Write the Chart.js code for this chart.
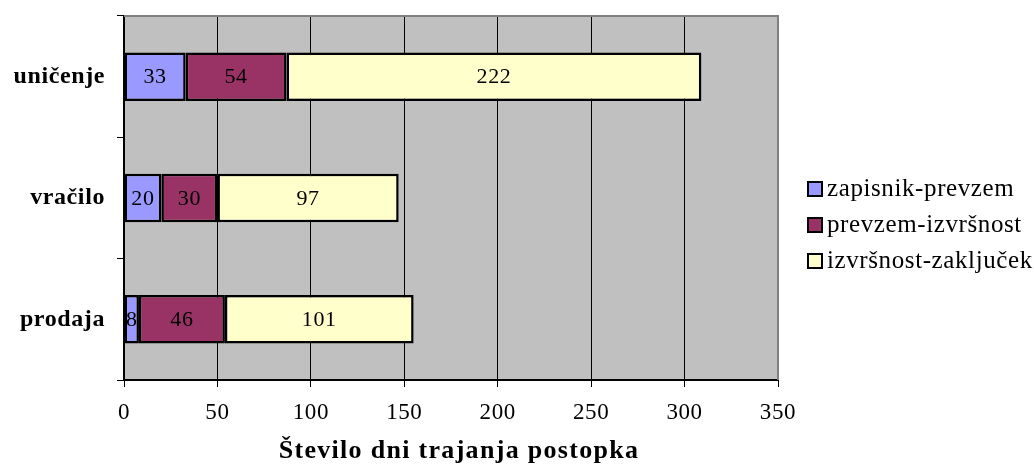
<!DOCTYPE html>
<html>
<head>
<meta charset="utf-8">
<script src="https://cdn.jsdelivr.net/npm/chart.js@4"></script>
<style>
  html, body { margin: 0; padding: 0; background: #fff; }
</style>
</head>
<body>
<canvas id="chart" width="1034" height="469"></canvas>
<script>
const categories = ['uničenje', 'vračilo', 'prodaja'];
const seriesNames = ['zapisnik-prevzem', 'prevzem-izvršnost', 'izvršnost-zaključek'];
const zapisnikPrevzem = [33, 20, 8];
const prevzemIzvrsnost = [54, 30, 46];
const izvrsnostZakljucek = [222, 97, 101];
const xTicks = [0, 50, 100, 150, 200, 250, 300, 350];
const seriesColors = ['#9999ff', '#993366', '#ffffcc'];
const axisTitle = 'Število dni trajanja postopka';

const serif = "'Liberation Serif', 'Times New Roman', serif";

// gray plot area, gray top/right frame, value labels, legend, axis title
const excelLook = {
    id: 'excelLook',
    beforeDraw(chart) {
        const { ctx, chartArea: a } = chart;
        ctx.letterSpacing = '0.6px';
        ctx.save();
        ctx.fillStyle = '#c0c0c0';
        ctx.fillRect(a.left, a.top, a.right - a.left, a.bottom - a.top);
        ctx.restore();
    },
    afterDatasetsDraw(chart) {
        const { ctx, chartArea: a } = chart;
        ctx.save();
        ctx.strokeStyle = '#808080';
        ctx.lineWidth = 2;
        ctx.beginPath();
        ctx.moveTo(a.left, a.top);
        ctx.lineTo(a.right, a.top);
        ctx.lineTo(a.right, a.bottom);
        ctx.stroke();

        ctx.fillStyle = '#000';
        ctx.font = '22px ' + serif;
        ctx.textAlign = 'center';
        ctx.textBaseline = 'middle';
        chart.data.datasets.forEach((ds, i) => {
            chart.getDatasetMeta(i).data.forEach((bar, j) => {
                const p = bar.getCenterPoint();
                ctx.fillText(String(ds.data[j]), p.x, p.y + 1);
            });
        });
        ctx.restore();
    },
    afterDraw(chart) {
        const { ctx, chartArea: a } = chart;
        ctx.save();
        ctx.font = '25px ' + serif;
        ctx.textBaseline = 'middle';
        ctx.textAlign = 'left';
        chart.data.datasets.forEach((ds, i) => {
            const y = 189 + i * 36;
            ctx.fillStyle = ds.backgroundColor;
            ctx.fillRect(808, y - 7, 14, 14);
            ctx.strokeStyle = '#000';
            ctx.lineWidth = 2;
            ctx.strokeRect(808, y - 7, 14, 14);
            ctx.fillStyle = '#000';
            ctx.fillText(ds.label, 827, y);
        });

        ctx.letterSpacing = '1.3px';
        ctx.font = 'bold 26px ' + serif;
        ctx.textAlign = 'center';
        ctx.fillText(axisTitle, (a.left + a.right) / 2 + 8, 451);
        ctx.restore();
    }
};

const ctx = document.getElementById('chart').getContext('2d');

const chart = new Chart(ctx, {
    type: 'bar',
    data: {
        labels: categories,
        datasets: [zapisnikPrevzem, prevzemIzvrsnost, izvrsnostZakljucek].map((vals, i) => ({
            label: seriesNames[i],
            data: vals,
            backgroundColor: seriesColors[i],
            borderColor: '#000',
            borderWidth: 2.5,
            borderSkipped: false,
            categoryPercentage: 1,
            barPercentage: 0.4
        }))
    },
    options: {
        indexAxis: 'y',
        responsive: false,
        animation: false,
        layout: { padding: { top: 16, right: 256, left: 0, bottom: 0 } },
        plugins: {
            legend: { display: false },
            tooltip: { enabled: false }
        },
        scales: {
            x: {
                stacked: true,
                min: 0,
                max: 350,
                afterBuildTicks: s => { s.ticks = xTicks.map(v => ({ value: v })); },
                afterFit: s => { s.height = 89; s.paddingLeft = 0; s.paddingRight = 0; },
                grid: { color: '#000', lineWidth: 1, tickLength: 7, tickColor: '#000' },
                border: { color: '#000', width: 2 },
                ticks: { color: '#000', font: { family: serif, size: 23 }, padding: 12 }
            },
            y: {
                stacked: true,
                offset: true,
                afterFit: s => { s.width = 124; s.paddingTop = 0; s.paddingBottom = 0; },
                grid: { offset: true, drawOnChartArea: false, tickLength: 7, color: '#000' },
                border: { color: '#000', width: 2 },
                ticks: { color: '#000', font: { family: serif, size: 24, weight: 'bold' }, padding: 12 }
            }
        }
    },
    plugins: [excelLook]
});
</script>
</body>
</html>
